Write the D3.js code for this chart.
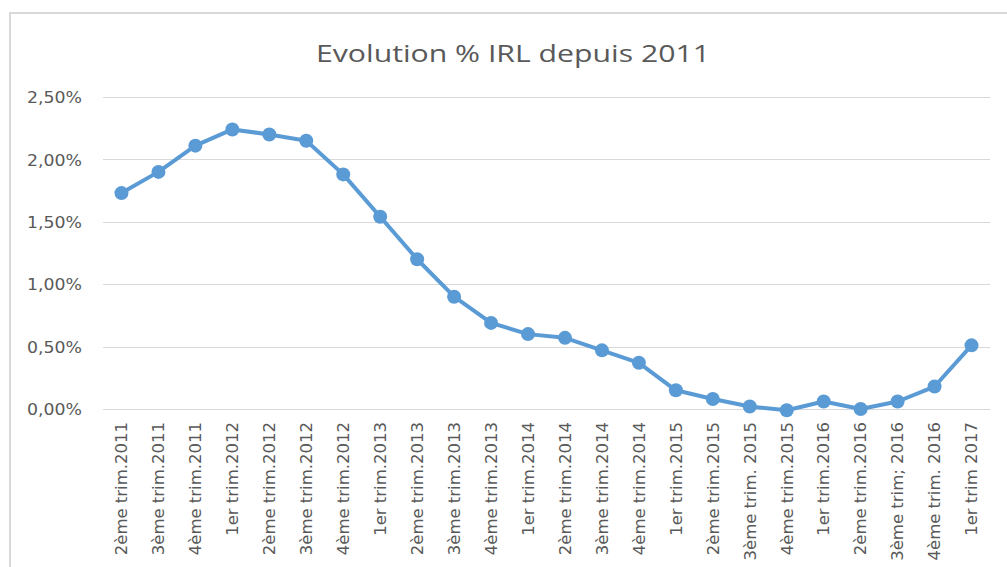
<!DOCTYPE html>
<html>
<head>
<meta charset="utf-8">
<script src="https://cdn.jsdelivr.net/npm/d3@7"></script>
<style>
  body { margin: 0; background: #fff; }
  svg text { font-family: "DejaVu Sans", "Liberation Sans", sans-serif; fill: #595959; }
  svg text.title { font-family: "Open Sans", "Liberation Sans", sans-serif; }
</style>
</head>
<body>
<svg id="chart" width="1007" height="567"></svg>
<script>
// quarters shown on the x axis
var quarters = [
    '2ème trim.2011', '3ème trim.2011', '4ème trim.2011',
    '1er trim.2012', '2ème trim.2012', '3ème trim.2012', '4ème trim.2012',
    '1er trim.2013', '2ème trim.2013', '3ème trim.2013', '4ème trim.2013',
    '1er trim.2014', '2ème trim.2014', '3ème trim.2014', '4ème trim.2014',
    '1er trim.2015', '2ème trim.2015', '3ème trim. 2015', '4ème trim.2015',
    '1er trim.2016', '2ème trim.2016', '3ème trim; 2016', '4ème trim. 2016',
    '1er trim 2017'
];
// IRL year-on-year change, in %
var irlValues = [
    1.73, 1.90, 2.11,
    2.24, 2.20, 2.15, 1.88,
    1.54, 1.20, 0.90, 0.69,
    0.60, 0.57, 0.47, 0.37,
    0.15, 0.08, 0.02, -0.01,
    0.06, 0.00, 0.06, 0.18,
    0.51
];
var yTicks = [0, 0.5, 1, 1.5, 2, 2.5];
var chartTitle = 'Evolution % IRL depuis 2011';

var svg = d3.select('#chart');
var margin = {top: 97, left: 103, right: 17, bottom: 158};
var width = 1007 - margin.left - margin.right,
    height = 567 - margin.top - margin.bottom;

// outer frame (only top and left edges are visible in the crop)
svg.append('path')
    .attr('d', 'M10,567 L10,13 L1007,13')
    .attr('fill', 'none')
    .attr('stroke', '#d9d9d9')
    .attr('stroke-width', 2);

svg.append('text')
    .attr('class', 'title')
    .attr('x', 513)
    .attr('y', 62)
    .attr('text-anchor', 'middle')
    .attr('textLength', 394)
    .attr('lengthAdjust', 'spacingAndGlyphs')
    .style('font-size', '24px')
    .text(chartTitle);

var g = svg.append('g')
    .attr('transform', 'translate(' + margin.left + ',' + margin.top + ')');

var x = d3.scaleBand()
    .domain(quarters)
    .range([0, width]);

var y = d3.scaleLinear()
    .domain([0, 2.5])
    .range([height, 0]);

var fmt = function(d){ return d.toFixed(2).replace('.', ',') + '%'; };

// gridlines
g.selectAll('.grid')
    .data(yTicks)
    .enter().append('line')
    .attr('class', 'grid')
    .attr('x1', 0)
    .attr('x2', width)
    .attr('y1', function(d){ return Math.round(y(d)) + 0.5; })
    .attr('y2', function(d){ return Math.round(y(d)) + 0.5; })
    .attr('stroke', '#d9d9d9')
    .attr('stroke-width', 1);

// y axis labels
var yAxis = g.append('g')
    .call(d3.axisLeft(y).tickValues(yTicks).tickFormat(fmt).tickSize(0).tickPadding(21));
yAxis.select('.domain').remove();
yAxis.selectAll('text')
    .style('font-size', '16px')
    .attr('textLength', 55)
    .attr('lengthAdjust', 'spacingAndGlyphs')
    .attr('dy', '0.35em');

// x axis labels, rotated
var xAxis = g.append('g')
    .attr('transform', 'translate(0,' + height + ')')
    .call(d3.axisBottom(x).tickSize(0));
xAxis.select('.domain').remove();
xAxis.selectAll('text')
    .style('font-size', '16.5px')
    .attr('text-anchor', 'end')
    .attr('transform', 'rotate(-90)')
    .attr('x', -13)
    .attr('y', 0)
    .attr('dy', '0.35em');

var line = d3.line()
    .x(function(d, i){ return x(quarters[i]) + x.bandwidth() / 2; })
    .y(function(d){ return y(d); });

g.append('path')
    .datum(irlValues)
    .attr('d', line)
    .attr('fill', 'none')
    .attr('stroke', '#5b9bd5')
    .attr('stroke-width', 4)
    .attr('stroke-linejoin', 'round');

g.selectAll('.dot')
    .data(irlValues)
    .enter().append('circle')
    .attr('class', 'dot')
    .attr('cx', function(d, i){ return x(quarters[i]) + x.bandwidth() / 2; })
    .attr('cy', function(d){ return y(d); })
    .attr('r', 7)
    .attr('fill', '#5b9bd5');
</script>
</body>
</html>
